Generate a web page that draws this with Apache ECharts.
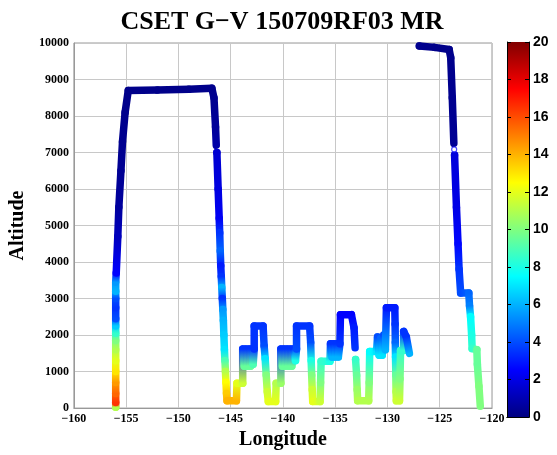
<!DOCTYPE html>
<html>
<head>
<meta charset="utf-8">
<script src="https://cdn.jsdelivr.net/npm/echarts@6/dist/echarts.min.js"></script>
<style>html,body{margin:0;padding:0;background:#fff}#c{width:557px;height:455px}</style>
</head>
<body>
<div id="c"></div>
<script>
// ---- data: [longitude, altitude, mixing ratio] ----
const climbLeg = [
  [-156.0, 20, 11], [-156.0, 150, 16.5], [-156.0, 400, 15.5], [-156.0, 700, 14.5], [-156.0, 1000, 13],
  [-156.0, 1300, 12], [-156.0, 1600, 11], [-156.0, 1850, 10], [-156.0, 2050, 8.5], [-156.0, 2250, 6.5],
  [-156.0, 2450, 4], [-156.0, 2750, 3.5], [-156.0, 3000, 4], [-156.0, 3200, 6], [-156.0, 3450, 5.5],
  [-155.95, 3700, 2.5], [-155.8, 4700, 1.2], [-155.7, 5500, 0.6], [-155.5, 6500, 0.4], [-155.35, 7300, 0.3],
  [-155.1, 8100, 0.25], [-154.8, 8700, 0.2], [-152.0, 8710, 0.2], [-149.0, 8730, 0.2], [-146.8, 8760, 0.25],
  [-146.6, 8500, 0.3], [-146.45, 7700, 0.5], [-146.38, 7200, 0.8]
];
const descentLeg = [
  [-146.32, 7000, 1.6], [-146.2, 6000, 1.9], [-146.1, 5200, 2.3], [-146.05, 4800, 3.5], [-146.0, 4300, 4.5],
  [-145.95, 3900, 3], [-145.9, 3600, 3.5], [-145.85, 3300, 6], [-145.8, 3000, 3.5], [-145.75, 2700, 5.5],
  [-145.7, 2400, 6], [-145.65, 2000, 6.5], [-145.6, 1600, 7], [-145.55, 1300, 9], [-145.5, 1000, 11],
  [-145.45, 700, 12.5], [-145.4, 400, 13.5], [-145.35, 200, 14], [-144.45, 200, 14], [-144.4, 680, 12],
  [-143.85, 680, 11.5], [-143.85, 1620, 3.5], [-143.7, 1150, 9.5], [-143.55, 1620, 3.5], [-143.4, 1150, 9.5],
  [-143.25, 1620, 3.5], [-143.1, 1150, 9.5], [-142.95, 1620, 3.5], [-142.85, 1200, 9], [-142.75, 1620, 3.5],
  [-142.75, 2250, 3.5], [-141.9, 2250, 3.5], [-141.8, 1700, 4], [-141.7, 1350, 7], [-141.6, 900, 10],
  [-141.5, 450, 11.5], [-141.4, 180, 12], [-140.7, 180, 12], [-140.65, 680, 11], [-140.2, 680, 10.5],
  [-140.2, 1620, 3.5], [-140.05, 1150, 9.5], [-139.9, 1620, 3.5], [-139.75, 1150, 9.5], [-139.6, 1620, 3.5],
  [-139.45, 1150, 9.5], [-139.3, 1620, 3.5], [-139.15, 1150, 9.5], [-139.0, 1620, 3.5], [-138.8, 1300, 8],
  [-138.7, 1620, 4], [-138.7, 2250, 3.5], [-137.45, 2250, 3.5], [-137.35, 1800, 4], [-137.3, 1300, 8],
  [-137.25, 900, 10], [-137.2, 500, 11.5], [-137.15, 180, 12], [-136.45, 180, 11.5], [-136.4, 700, 10],
  [-136.35, 1280, 8.5], [-135.5, 1280, 8], [-135.45, 1760, 3.5], [-135.3, 1400, 6], [-135.15, 1760, 3.5],
  [-135.0, 1400, 6], [-134.85, 1760, 3.5], [-134.7, 1400, 6], [-134.55, 1760, 3.5], [-134.5, 2560, 2.5],
  [-133.45, 2560, 2.5], [-133.2, 2200, 3], [-133.1, 1650, 3.5]
];
const sawtoothLeg = [
  [-133.05, 1330, 8.5], [-132.95, 900, 9.5], [-132.9, 500, 10.5], [-132.85, 200, 11], [-131.8, 200, 11],
  [-131.75, 700, 10], [-131.7, 1550, 7.5], [-131.05, 1550, 7], [-130.95, 1950, 4], [-130.8, 1450, 7],
  [-130.65, 1900, 4.5], [-130.5, 1450, 7], [-130.35, 2000, 4], [-130.2, 1600, 6], [-130.1, 2750, 3],
  [-129.3, 2750, 3], [-129.27, 2300, 3.5], [-129.25, 1800, 4.5], [-129.23, 1400, 7], [-129.2, 900, 9.5],
  [-129.18, 450, 11], [-129.15, 200, 11.5], [-128.85, 200, 11.5], [-128.8, 800, 10], [-128.75, 1580, 8.5],
  [-128.45, 1580, 8.5], [-128.45, 2100, 3.5], [-128.2, 1950, 3.5], [-127.9, 1500, 6]
];
const returnLeg = [
  [-126.95, 9920, 0.3], [-125.5, 9880, 0.2], [-124.1, 9820, 0.2], [-123.95, 9600, 0.25], [-123.8, 8500, 0.3],
  [-123.65, 7250, 0.4]
];
const finalLeg = [
  [-123.58, 6930, 1.8], [-123.4, 5500, 2], [-123.25, 4500, 2.6], [-123.15, 3800, 3.5], [-123.0, 3150, 4],
  [-122.22, 3150, 4.5], [-122.15, 2800, 5], [-122.05, 2500, 7.5], [-121.95, 2000, 8], [-121.9, 1630, 8.5],
  [-121.45, 1600, 9.5], [-121.4, 1200, 9.5], [-121.25, 600, 10], [-121.12, 50, 10]
];
const openMarker = [[-123.62, 7085, 2]];
const xTicks = { min: -160, max: -120, step: 5 };
const yTicks = { min: 0, max: 10000, step: 1000 };
const cbTicks = { min: 0, max: 20, step: 2 };

// ---- build track ----
const legs = [climbLeg, descentLeg, sawtoothLeg, returnLeg, finalLeg];
const track = [];
legs.forEach((leg, k) => leg.forEach(p => track.push([p[0], p[1], p[2], k])));

function clamp(v) { return Math.max(0, Math.min(1, v)); }
function jet(v) {
  const t = clamp((v - cbTicks.min) / (cbTicks.max - cbTicks.min));
  const r = clamp(1.5 - Math.abs(4 * t - 3));
  const g = clamp(1.5 - Math.abs(4 * t - 2));
  const b = clamp(1.5 - Math.abs(4 * t - 1));
  return 'rgb(' + Math.round(r * 255) + ',' + Math.round(g * 255) + ',' + Math.round(b * 255) + ')';
}
const LW = 7.5;
function renderItem(params, api) {
  const i = params.dataIndex;
  const cur = track[i];
  const prev = track[i - 1];
  const p1 = api.coord([cur[0], cur[1]]);
  if (!prev || prev[3] !== cur[3]) {
    return { type: 'circle', shape: { cx: p1[0], cy: p1[1], r: LW / 2 }, style: { fill: jet(cur[2]) } };
  }
  const p0 = api.coord([prev[0], prev[1]]);
  let stroke;
  if (Math.abs(p0[0] - p1[0]) + Math.abs(p0[1] - p1[1]) < 0.5) {
    stroke = jet(cur[2]);
  } else {
    stroke = { type: 'linear', x: p0[0], y: p0[1], x2: p1[0], y2: p1[1], global: true,
      colorStops: [{ offset: 0, color: jet(prev[2]) }, { offset: 1, color: jet(cur[2]) }] };
  }
  return { type: 'line', shape: { x1: p0[0], y1: p0[1], x2: p1[0], y2: p1[1] },
    style: { stroke: stroke, lineWidth: LW, lineCap: 'round' } };
}

const cbStops = [0, 0.125, 0.375, 0.625, 0.875, 1].map(o => ({ offset: o, color: jet(cbTicks.min + o * (cbTicks.max - cbTicks.min)) }));
const serif = '"Liberation Serif", "DejaVu Serif", serif';
const sans = '"Liberation Sans", Arial, sans-serif';
const minus = v => (v < 0 ? '\u2212' : '') + Math.abs(v);

const chart = echarts.init(document.getElementById('c'), null, { renderer: 'canvas' });
chart.setOption({
  animation: false,
  backgroundColor: '#fff',
  title: {
    text: 'CSET G\u2212V 150709RF03 MR', left: 277, textAlign: 'center', top: 4,
    textStyle: { fontFamily: serif, fontWeight: 'bold', fontSize: 26, color: '#000' }
  },
  grid: [
    { left: 67, right: 65, top: 43, bottom: 37, show: true, borderColor: '#999', borderWidth: 1 },
    { left: 507, width: 22, top: 42, height: 375 }
  ],
  xAxis: [
    { type: 'value', gridIndex: 0, min: xTicks.min, max: xTicks.max, interval: xTicks.step,
      name: 'Longitude', nameLocation: 'middle', nameGap: 16,
      nameTextStyle: { fontFamily: serif, fontWeight: 'bold', fontSize: 20, color: '#000' },
      axisLine: { lineStyle: { color: '#999' } }, axisTick: { show: false },
      axisLabel: { formatter: minus, fontFamily: serif, fontWeight: 'bold', fontSize: 12, color: '#000', margin: 5 },
      splitLine: { show: true, lineStyle: { color: '#c8c8c8' } } },
    { type: 'category', gridIndex: 1, data: [''], position: 'bottom', z: 5,
      axisLine: { lineStyle: { color: '#000' } }, axisTick: { show: false }, axisLabel: { show: false } },
    { type: 'category', gridIndex: 1, data: [''], position: 'top', z: 5,
      axisLine: { lineStyle: { color: '#000' } }, axisTick: { show: false }, axisLabel: { show: false } }
  ],
  yAxis: [
    { type: 'value', gridIndex: 0, min: yTicks.min, max: yTicks.max, interval: yTicks.step,
      name: 'Altitude', nameLocation: 'middle', nameGap: 40, nameRotate: 90,
      nameTextStyle: { fontFamily: serif, fontWeight: 'bold', fontSize: 20, color: '#000' },
      axisLine: { show: true, lineStyle: { color: '#999' } }, axisTick: { show: false },
      axisLabel: { formatter: v => String(v), fontFamily: serif, fontWeight: 'bold', fontSize: 12, color: '#000', margin: 5 },
      splitLine: { show: true, lineStyle: { color: '#c8c8c8' } } },
    { type: 'value', gridIndex: 1, min: cbTicks.min, max: cbTicks.max, interval: cbTicks.step, position: 'right', z: 5,
      axisLine: { show: true, lineStyle: { color: '#000' } },
      axisTick: { show: true, inside: true, length: 4, lineStyle: { color: '#000' } },
      axisLabel: { formatter: v => String(v), fontFamily: sans, fontWeight: 'bold', fontSize: 14, color: '#000', margin: 4 },
      splitLine: { show: false } },
    { type: 'value', gridIndex: 1, min: cbTicks.min, max: cbTicks.max, interval: cbTicks.step, position: 'left', z: 5,
      axisLine: { show: true, lineStyle: { color: '#000' } },
      axisTick: { show: true, inside: true, length: 4, lineStyle: { color: '#000' } },
      axisLabel: { show: false }, splitLine: { show: false } }
  ],
  series: [
    { type: 'custom', xAxisIndex: 0, yAxisIndex: 0, renderItem: renderItem, data: track,
      encode: { x: 0, y: 1 }, clip: false, z: 3 },
    { type: 'scatter', xAxisIndex: 0, yAxisIndex: 0, data: openMarker, symbol: 'circle', symbolSize: 5,
      itemStyle: { color: '#fff', borderColor: '#1a1aff', borderWidth: 1.2 }, z: 4 },
    { type: 'bar', xAxisIndex: 1, yAxisIndex: 1, data: [cbTicks.max], barWidth: '100%',
      itemStyle: { color: { type: 'linear', x: 0, y: 1, x2: 0, y2: 0, colorStops: cbStops } } }
  ]
});
</script>
</body>
</html>
